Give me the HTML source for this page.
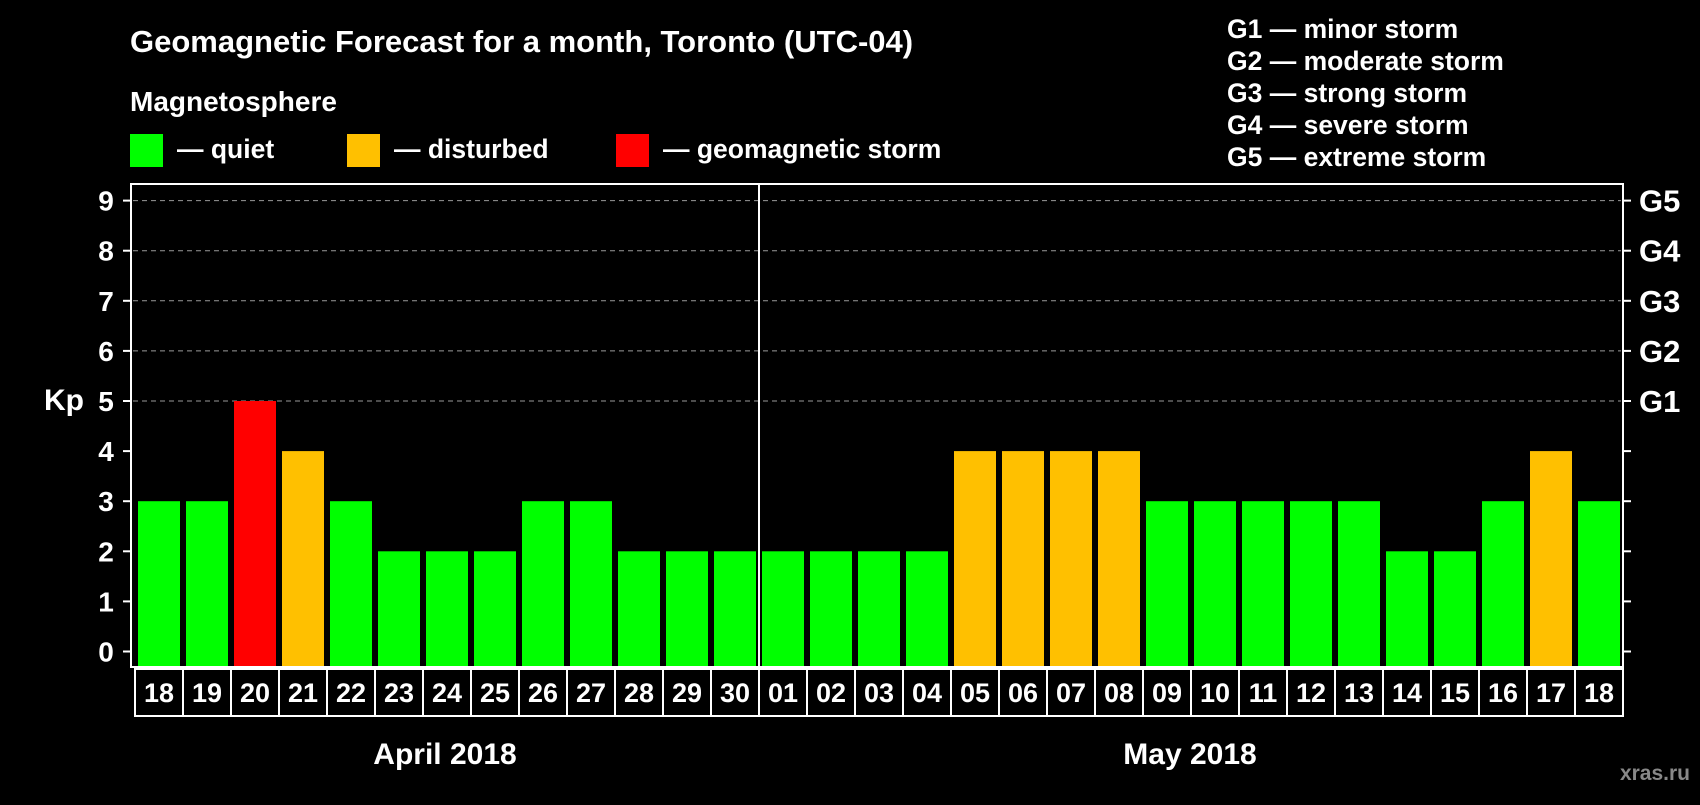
<!DOCTYPE html>
<html><head><meta charset="utf-8"><style>
body{margin:0;background:#000;}
svg text{font-family:"Liberation Sans",Arial,sans-serif;font-weight:bold;fill:#fff;}
</style></head><body>
<svg width="1700" height="800" viewBox="0 0 1700 800">
<text x="130" y="52" font-size="31">Geomagnetic Forecast for a month, Toronto (UTC-04)</text>
<text x="130" y="111" font-size="28">Magnetosphere</text>
<rect x="130" y="134" width="33" height="33" fill="#00ff00"/>
<text x="177" y="158" font-size="26.5">— quiet</text>
<rect x="347" y="134" width="33" height="33" fill="#ffc000"/>
<text x="394" y="158" font-size="26.5">— disturbed</text>
<rect x="616" y="134" width="33" height="33" fill="#ff0000"/>
<text x="663" y="158" font-size="26.5">— geomagnetic storm</text>
<g font-size="26.5">
<text x="1227" y="38">G1 — minor storm</text>
<text x="1227" y="70">G2 — moderate storm</text>
<text x="1227" y="102">G3 — strong storm</text>
<text x="1227" y="134">G4 — severe storm</text>
<text x="1227" y="166">G5 — extreme storm</text>
</g>
<text x="64" y="410" font-size="30" text-anchor="middle">Kp</text>
<g id="plot"></g>
<rect x="131" y="184" width="1492" height="483" fill="none" stroke="#fff" stroke-width="2"/>
<line x1="759" y1="184" x2="759" y2="716" stroke="#fff" stroke-width="2"/>
<text x="445" y="764" font-size="30" text-anchor="middle">April 2018</text>
<text x="1190" y="764" font-size="30" text-anchor="middle">May 2018</text>
<text x="1690" y="780" font-size="21" text-anchor="end" style="fill:#888">xras.ru</text>
</svg>
<script>
const days=["18","19","20","21","22","23","24","25","26","27","28","29","30","01","02","03","04","05","06","07","08","09","10","11","12","13","14","15","16","17","18"];
const kp=[3,3,5,4,3,2,2,2,3,3,2,2,2,2,2,2,2,4,4,4,4,3,3,3,3,3,2,2,3,4,3];
const yTicks=[0,1,2,3,4,5,6,7,8,9];
const gLabels=["G1","G2","G3","G4","G5"];
const NS="http://www.w3.org/2000/svg";
const g=document.getElementById('plot');
const y=v=>651.5-v*50.1;
const x=i=>138+i*48;
function mk(t,a){const e=document.createElementNS(NS,t);for(const k in a)e.setAttribute(k,a[k]);g.appendChild(e);return e;}
yTicks.forEach(v=>{
  if(v>=5){const l=mk('line',{x1:133,x2:1621,y1:y(v),y2:y(v),stroke:'#999','stroke-dasharray':'5,4','stroke-width':1});
  
  }
  const t1=mk('line',{x1:123,x2:131,y1:y(v),y2:y(v),stroke:'#fff','stroke-width':2});
  
  
  const t2=mk('line',{x1:1623,x2:1631,y1:y(v),y2:y(v),stroke:'#fff','stroke-width':2});
  
  
  const tx=mk('text',{x:106,y:y(v)+10,'font-size':28,'text-anchor':'middle'});tx.textContent=v;
  
  
});
gLabels.forEach((s,i)=>{
  const tx=mk('text',{x:1639,y:y(5+i)+11,'font-size':31});tx.textContent=s;
  
  
});
kp.forEach((v,i)=>{
  const c=v>=5?'#ff0000':v>=4?'#ffc000':'#00ff00';
  const r=mk('rect',{x:x(i),y:y(v),width:42,height:666-y(v),fill:c});
  
  
  const b=mk('rect',{x:x(i)-3,y:669,width:48,height:47,fill:'none',stroke:'#fff','stroke-width':2});
  
  
  const tx=mk('text',{x:x(i)+21,y:702,'font-size':27,'text-anchor':'middle'});tx.textContent=days[i];
  
  
});
</script>
</body></html>
